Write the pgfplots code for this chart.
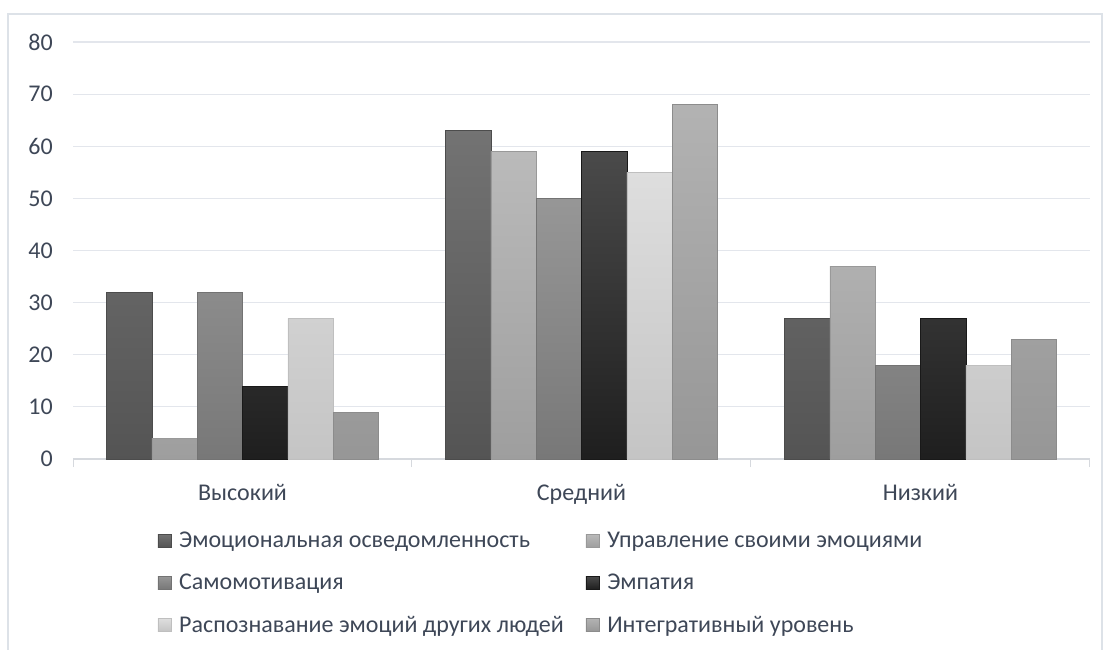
\documentclass[border=0pt]{standalone}
\usepackage{fontspec}
\setmainfont{Carlito}
\usepackage{pgfplots}
\pgfplotsset{compat=1.18}

\definecolor{txt}{HTML}{3E4757}
\definecolor{gridc}{HTML}{E3E6EC}
\definecolor{axisc}{HTML}{D6D9DE}
\definecolor{framec}{HTML}{DDE2E8}

\pgfplotsset{
  sq/.style={legend image code/.code={\draw[##1,line width=0.6pt] (0pt,-6.5pt) rectangle (13pt,6.5pt);}},
}

\begin{document}
\begin{tikzpicture}[x=1pt,y=1pt]
\useasboundingbox (0,0) rectangle (1105,649);
\draw[framec,line width=2pt] (8,-10) -- (8,635) -- (1102,635) -- (1102,-10);
\begin{axis}[
  at={(73pt,190pt)}, anchor=south west,
  scale only axis, width=1017pt, height=417pt,
  ybar=0pt, bar width=45.3pt,
  xmin=-0.5, xmax=2.5, ymin=0, ymax=80,
  ytick={0,10,...,80},
  xtick={0,1,2}, xticklabels={Высокий,Средний,Низкий},
  xtick style={draw=none},
  extra x ticks={-0.5,0.5,1.5,2.5}, extra x tick labels={},
  extra x tick style={grid=none, major tick length=8pt, tick align=outside,
    xtick style={draw=axisc,line width=1pt}},
  axis lines*=left,
  x axis line style={draw=axisc,line width=1.2pt,-},
  y axis line style={draw=none},
  ytick style={draw=none},
  ymajorgrids, grid style={draw=gridc,line width=1.2pt},
  tick label style={font=\fontsize{24}{28}\selectfont, text=txt},
  yticklabel style={anchor=east, inner sep=0pt, xshift=-20pt},
  xticklabel style={anchor=north, inner sep=0pt, yshift=-21pt},
  /pgf/number format/assume math mode=true,
  legend columns=2,
  legend style={at={(0.083,-0.170)}, anchor=north west, draw=none, fill=none,
    font=\fontsize{24}{28}\selectfont, text=txt, inner sep=0pt,
    row sep=21pt,
    /tikz/every odd column/.append style={column sep=6pt},
    /tikz/every even column/.append style={column sep=20pt}},
  legend cell align=left,
]
\addplot[sq, draw=black!70, top color=black!55, bottom color=black!67] coordinates {(0,32) (1,63) (2,27)};
\addlegendentry{Эмоциональная осведомленность}
\addplot[sq, draw=black!40, top color=black!27, bottom color=black!38] coordinates {(0,4) (1,59) (2,37)};
\addlegendentry{Управление своими эмоциями}
\addplot[sq, draw=black!55, top color=black!41, bottom color=black!53] coordinates {(0,32) (1,50) (2,18)};
\addlegendentry{Самомотивация}
\addplot[sq, draw=black!90, top color=black!71, bottom color=black!88] coordinates {(0,14) (1,59) (2,27)};
\addlegendentry{Эмпатия}
\addplot[sq, draw=black!25, top color=black!13, bottom color=black!23] coordinates {(0,27) (1,55) (2,18)};
\addlegendentry{Распознавание эмоций других людей}
\addplot[sq, draw=black!45, top color=black!30, bottom color=black!41] coordinates {(0,9) (1,68) (2,23)};
\addlegendentry{Интегративный уровень}
\end{axis}
\end{tikzpicture}
\end{document}
